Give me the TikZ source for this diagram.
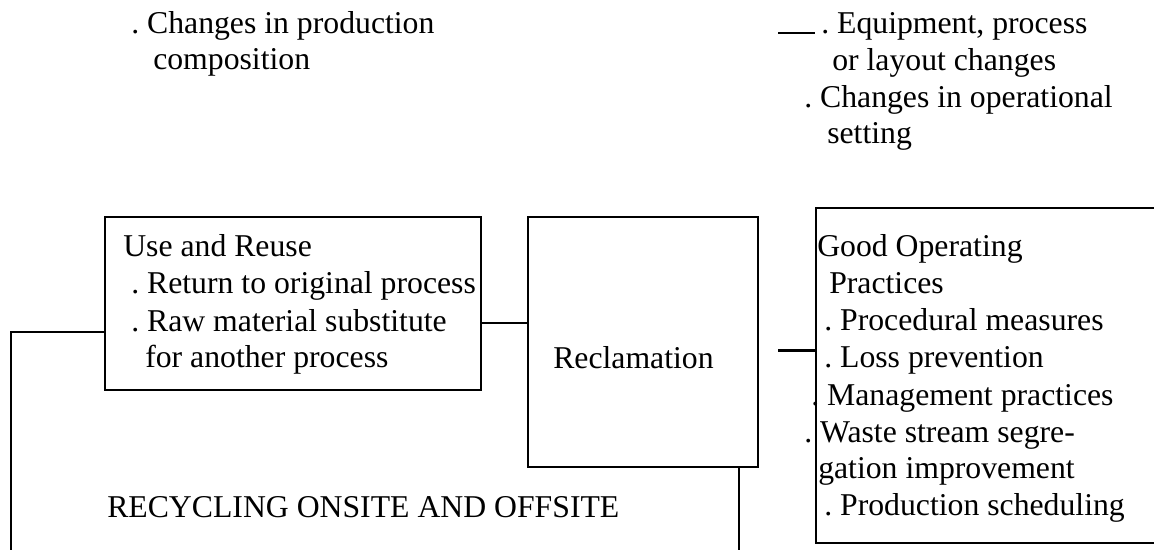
\documentclass[tikz,border=0pt]{standalone}
\usepackage{fontspec}
\setmainfont{Liberation Serif}
\frenchspacing
\begin{document}
\begin{tikzpicture}[x=0.75pt,y=-0.75pt,
  line width=1.9pt,
  box/.style={draw, rectangle, inner sep=0pt},
  txt/.style={anchor=base west, inner sep=0pt, font=\fontsize{23.8}{28}\selectfont},
  link/.style={draw, line cap=rect}]
\useasboundingbox (0,0) rectangle (1154,550);
\clip (0,0) rectangle (1154,550);

% boxes
\node[box, minimum width=282pt, minimum height=129.75pt] (use) at (293,303.5) {};
\node[box, minimum width=172.5pt, minimum height=187.5pt] (recl) at (643,342) {};
\node[box, minimum width=270pt, minimum height=251.25pt] (good) at (996,375.5) {};

% connector end points
\coordinate (luse) at (11,332);
\coordinate (lbot) at (11,556);
\coordinate (mid) at (505,323);
\coordinate (rbot) at (739,556);
\coordinate (gs) at (778,350.5);
\coordinate (u1) at (778,33);
\coordinate (u2) at (815,33);

% connectors
\draw (use.west |- luse) -- (luse) -- (lbot);
\draw (use.east |- mid) -- (recl.west |- mid);
\draw (recl.south -| rbot) -- (rbot);
\draw (gs) -- (good.west |- gs);
\draw (u1) -- (u2);

% source reduction notes
\node[txt] (tl1) at (130,33) {. Changes in production};
\node[txt] (tl2) at (152,69) {composition};
\node[txt] (tr1) at (820,33) {. Equipment, process};
\node[txt] (tr2) at (831,70) {or layout changes};
\node[txt] (tr3) at (803,107) {. Changes in operational};
\node[txt] (tr4) at (826,143) {setting};

% use and reuse
\node[txt] (u1t) at (122,256) {Use and Reuse};
\node[txt] (u2t) at (130,293) {. Return to original process};
\node[txt] (u3t) at (130,331) {. Raw material substitute};
\node[txt] (u4t) at (144,367) {for another process};

% reclamation
\node[txt] (rt) at (552,368) {Reclamation};

% recycling caption
\node[txt] (rec) at (106,517) {RECYCLING ONSITE AND OFFSITE};

% good operating practices
\node[txt] (g1) at (816,256) {Good Operating};
\node[txt] (g2) at (828,293) {Practices};
\node[txt] (g3) at (823,330) {. Procedural measures};
\node[txt] (g4) at (823,367) {. Loss prevention};
\node[txt] (g5) at (810,405) {. Management practices};
\node[txt] (g6) at (803,442) {. Waste stream segre-};
\node[txt] (g7) at (817,478) {gation improvement};
\node[txt] (g8) at (823,515) {. Production scheduling};
\end{tikzpicture}
\end{document}
